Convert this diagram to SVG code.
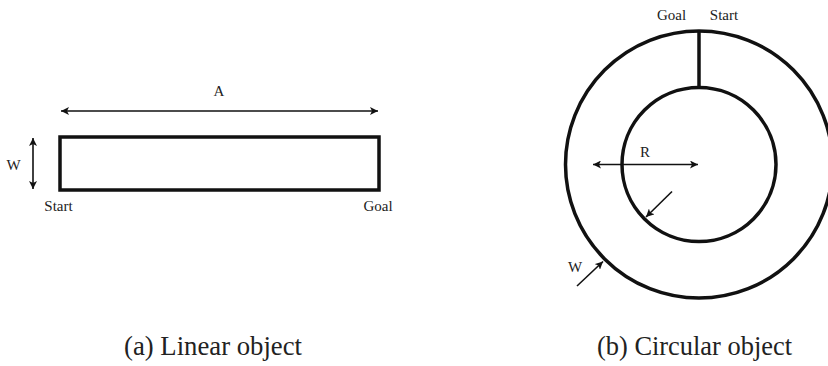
<svg xmlns="http://www.w3.org/2000/svg" width="828" height="366" viewBox="0 0 828 366">
<defs>
<marker id="ah" viewBox="0 0 10 10" refX="10" refY="5" markerWidth="8" markerHeight="8" markerUnits="userSpaceOnUse" orient="auto-start-reverse">
<path d="M0,0 L10,5 L0,10 L2.5,5 Z" fill="#111"/>
</marker>
<style>
text{font-family:'Liberation Serif',serif;fill:#222}
.lbl{font-size:15px}
.cap{font-size:28px}
.thick{fill:none;stroke:#111;stroke-width:3.5}
.arr{stroke:#111;stroke-width:1.6;fill:none}
</style>
</defs>
<rect width="828" height="366" fill="#fff"/>
<g id="linear-object">
<rect class="thick" x="60" y="137" width="319" height="53" stroke-width="3.2"/>
<text class="lbl" x="219" y="96" text-anchor="middle">A</text>
<text class="lbl" x="13.5" y="170" text-anchor="middle">W</text>
<text class="lbl" x="58.5" y="211" text-anchor="middle">Start</text>
<text class="lbl" x="378" y="211" text-anchor="middle">Goal</text>
</g>
<g id="circular-object">
<circle class="thick" cx="699" cy="164.5" r="133.5"/>
<circle class="thick" cx="699" cy="164.5" r="77"/>
<line class="thick" x1="699" y1="30" x2="699" y2="88"/>
<text class="lbl" x="671.5" y="19.5" text-anchor="middle">Goal</text>
<text class="lbl" x="724" y="19.5" text-anchor="middle">Start</text>
<text class="lbl" x="645" y="157" text-anchor="middle">R</text>
<text class="lbl" x="575" y="272" text-anchor="middle">W</text>
</g>
<g id="captions">
<text class="cap" x="124" y="355" textLength="178" lengthAdjust="spacingAndGlyphs">(a) Linear object</text>
<text class="cap" x="597" y="355" textLength="195" lengthAdjust="spacingAndGlyphs">(b) Circular object</text>
</g>
<g id="connectors">
<line class="arr" x1="61" y1="111" x2="378" y2="111" marker-start="url(#ah)" marker-end="url(#ah)"/>
<line class="arr" x1="33" y1="138" x2="33" y2="189" marker-start="url(#ah)" marker-end="url(#ah)"/>
<line class="arr" x1="593" y1="164.5" x2="698" y2="164.5" marker-start="url(#ah)" marker-end="url(#ah)"/>
<line class="arr" x1="672" y1="191.5" x2="646" y2="217" marker-end="url(#ah)"/>
<line class="arr" x1="577" y1="286" x2="603" y2="261.5" marker-end="url(#ah)"/>
</g>
</svg>
